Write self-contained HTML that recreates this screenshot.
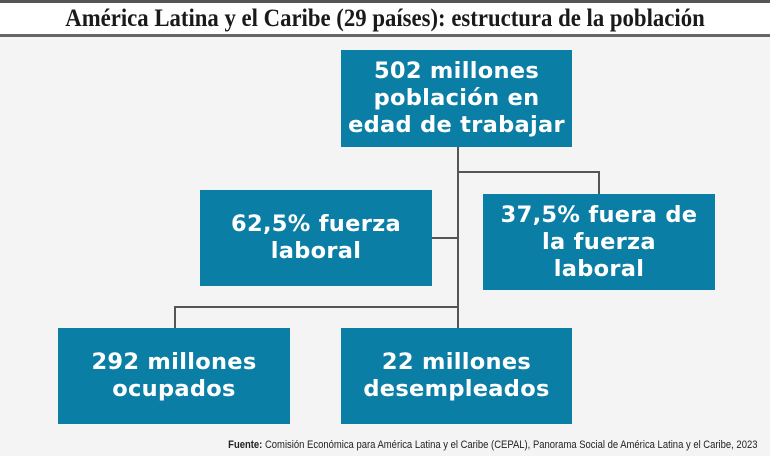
<!DOCTYPE html>
<html><head><meta charset="utf-8"><style>
body{margin:0;width:770px;height:456px;background:#f4f4f4;position:relative;overflow:hidden;font-family:"DejaVu Sans","Liberation Sans",sans-serif}
.top{position:absolute;left:0;top:0;width:770px;height:37px;background:#fff;border-top:3px solid #555;border-bottom:3px solid #666;box-sizing:border-box}
.title{position:absolute;left:0;width:770px;top:5px;text-align:center;font-family:"Liberation Serif",serif;font-weight:bold;font-size:25px;color:#1a1a1a;transform:scaleX(0.91);transform-origin:385px 0;white-space:nowrap}
.b{position:absolute;background:#0b7ea5;color:#fff;font-weight:bold;font-size:22.5px;line-height:27px;display:flex;align-items:center;justify-content:center;text-align:center;letter-spacing:0.3px}
.l{position:absolute;background:#555}
.foot{position:absolute;right:13px;top:439px;font-family:"Liberation Sans",sans-serif;font-size:11px;color:#222;white-space:nowrap;transform:scaleX(0.86);transform-origin:right top}
</style></head><body>
<div class="top"></div>
<div class="title">América Latina y el Caribe (29 países): estructura de la población</div>
<div class="l" style="left:457px;top:147px;width:2px;height:181px"></div>
<div class="l" style="left:457px;top:171px;width:142px;height:2px"></div>
<div class="l" style="left:598px;top:171px;width:2px;height:23px"></div>
<div class="l" style="left:432px;top:237px;width:26px;height:2px"></div>
<div class="l" style="left:174px;top:306px;width:284px;height:2px"></div>
<div class="l" style="left:174px;top:306px;width:2px;height:22px"></div>
<div class="b" style="left:341px;top:50px;width:231px;height:97px">502 millones<br>población en<br>edad de trabajar</div>
<div class="b" style="left:200px;top:190px;width:232px;height:96px">62,5% fuerza<br>laboral</div>
<div class="b" style="left:483px;top:194px;width:232px;height:96px">37,5% fuera de<br>la fuerza<br>laboral</div>
<div class="b" style="left:58px;top:328px;width:232px;height:96px">292 millones<br>ocupados</div>
<div class="b" style="left:341px;top:328px;width:231px;height:96px">22 millones<br>desempleados</div>
<div class="foot"><b>Fuente:</b> Comisión Económica para América Latina y el Caribe (CEPAL), Panorama Social de América Latina y el Caribe, 2023</div>
</body></html>
